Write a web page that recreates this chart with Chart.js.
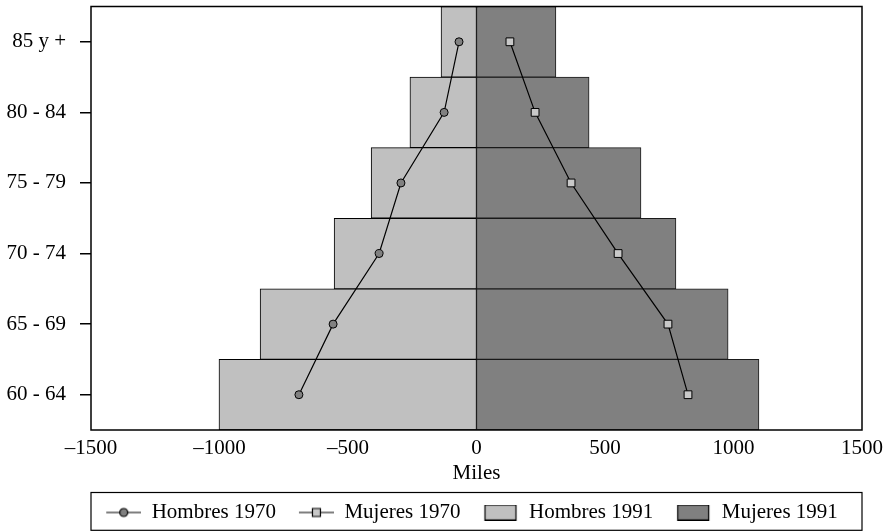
<!DOCTYPE html>
<html>
<head>
<meta charset="utf-8">
<script src="https://cdn.jsdelivr.net/npm/chart.js@4"></script>
<style>
  html, body { margin: 0; padding: 0; background: #fff; }
  #wrap { width: 891px; height: 531px; }
</style>
</head>
<body>
<div id="wrap"><canvas id="pyramid"></canvas></div>
<script>
// age groups, bottom to top
const grupos = ['60 - 64', '65 - 69', '70 - 74', '75 - 79', '80 - 84', '85 y +'];
// thousands of people (men negative)
const hombres1970 = [-691, -558, -379, -294, -126, -68];
const mujeres1970 = [823, 745, 551, 368, 228, 130];
const hombres1991 = [-1002, -842, -554, -410, -259, -138];
const mujeres1991 = [1099, 979, 776, 640, 438, 309];
const xTicks = [-1500, -1000, -500, 0, 500, 1000, 1500];

const fuente = "'Liberation Serif', 'DejaVu Serif', serif";

// little canvases used as legend symbols (blank on the left gives the item spacing)
function icono(tipo, relleno) {
    const c = document.createElement('canvas');
    c.width = 50;
    c.height = 16;
    const g = c.getContext('2d');
    g.strokeStyle = '#000';
    g.lineWidth = 1.2;
    if (tipo === 'caja') {
        g.fillStyle = relleno;
        g.fillRect(16.5, 0.5, 31, 15);
        g.strokeRect(16.5, 0.5, 31, 15);
    } else {
        g.beginPath();
        g.moveTo(15, 8);
        g.lineTo(50, 8);
        g.stroke();
        g.fillStyle = relleno;
        g.beginPath();
        if (tipo === 'circulo') {
            g.arc(32.5, 8, 4, 0, Math.PI * 2);
        } else {
            g.rect(28.5, 4, 8, 8);
        }
        g.fill();
        g.stroke();
    }
    return c;
}
const iconos = [
    icono('circulo', '#808080'),
    icono('cuadro', '#c8c8c8'),
    icono('caja', '#c0c0c0'),
    icono('caja', '#808080')
];

// box around the plot and around the legend
const marcos = {
    id: 'marcos',
    afterLayout(chart) {
        const lg = chart.legend;
        chart.$legendTop = lg.top;
        lg.left -= 12;
        lg.right -= 12;
        lg.top += 2;
        lg.bottom += 2;
    },
    afterDatasetsDraw(chart) {
        const a = chart.chartArea;
        const ctx = chart.ctx;
        ctx.save();
        ctx.strokeStyle = '#000';
        ctx.lineWidth = 1.5;
        ctx.strokeRect(a.left, a.top, a.right - a.left, a.bottom - a.top);
        ctx.restore();
    },
    afterDraw(chart) {
        const a = chart.chartArea;
        const top = chart.$legendTop;
        const ctx = chart.ctx;
        ctx.save();
        ctx.strokeStyle = '#000';
        ctx.lineWidth = 1.2;
        ctx.strokeRect(a.left, top + 0.5, a.right - a.left, chart.height - top - 1.2);
        ctx.restore();
    }
};

const ctx = document.getElementById('pyramid').getContext('2d');
const chart = new Chart(ctx, {
    type: 'bar',
    data: {
        labels: grupos,
        datasets: [{
            type: 'line',
            label: 'Hombres 1970',
            data: hombres1970,
            indexAxis: 'y',
            borderColor: '#000',
            borderWidth: 1.2,
            pointStyle: 'circle',
            pointRadius: 4,
            pointBackgroundColor: '#808080',
            pointBorderColor: '#000',
            pointBorderWidth: 1,
            fill: false,
            order: 0
        }, {
            type: 'line',
            label: 'Mujeres 1970',
            data: mujeres1970,
            indexAxis: 'y',
            borderColor: '#000',
            borderWidth: 1.2,
            pointStyle: 'rect',
            pointRadius: 5.5,
            pointBackgroundColor: '#c8c8c8',
            pointBorderColor: '#000',
            pointBorderWidth: 1,
            fill: false,
            order: 1
        }, {
            label: 'Hombres 1991',
            data: hombres1991,
            backgroundColor: '#c0c0c0',
            borderColor: '#000',
            borderWidth: 1,
            borderSkipped: false,
            grouped: false,
            barPercentage: 1,
            categoryPercentage: 1,
            order: 2
        }, {
            label: 'Mujeres 1991',
            data: mujeres1991,
            backgroundColor: '#808080',
            borderColor: '#1a1a1a',
            borderWidth: 1,
            borderSkipped: false,
            grouped: false,
            barPercentage: 1,
            categoryPercentage: 1,
            order: 3
        }]
    },
    options: {
        indexAxis: 'y',
        responsive: true,
        maintainAspectRatio: false,
        animation: false,
        layout: {
            padding: { top: 6, right: 29, left: 0, bottom: 0 }
        },
        plugins: {
            tooltip: { enabled: false },
            legend: {
                position: 'bottom',
                fullSize: false,
                labels: {
                    usePointStyle: true,
                    pointStyleWidth: 50,
                    boxHeight: 16,
                    padding: 8,
                    color: '#000',
                    font: { family: fuente, size: 21 },
                    generateLabels: (c) => c.data.datasets.map((ds, i) => ({
                        text: ds.label,
                        pointStyle: iconos[i],
                        datasetIndex: i,
                        hidden: false,
                        lineWidth: 0,
                        strokeStyle: 'rgba(0,0,0,0)',
                        fillStyle: 'rgba(0,0,0,0)',
                        fontColor: '#000'
                    }))
                }
            }
        },
        scales: {
            x: {
                min: -1500,
                max: 1500,
                afterBuildTicks: (s) => { s.ticks = xTicks.map(v => ({ value: v })); },
                afterFit: (s) => { s.height = 62; s.paddingTop = 0; s.paddingBottom = 0; },
                grid: { display: false, drawTicks: false, tickLength: 0 },
                border: { display: false },
                ticks: {
                    color: '#000',
                    padding: 6,
                    maxRotation: 0,
                    font: { family: fuente, size: 21 },
                    callback: (v) => v < 0 ? '\u2013' + Math.abs(v) : String(v)
                },
                title: {
                    display: true,
                    text: 'Miles',
                    color: '#000',
                    padding: { top: 0, bottom: 6 },
                    font: { family: fuente, size: 21 }
                }
            },
            y: {
                reverse: true,
                afterFit: (s) => { s.width = 91; s.paddingTop = 0; s.paddingBottom = 0; },
                grid: {
                    display: true,
                    drawOnChartArea: false,
                    drawTicks: true,
                    tickLength: 11,
                    offset: false,
                    color: '#000',
                    lineWidth: 1.5
                },
                border: { display: false },
                ticks: {
                    color: '#000',
                    padding: 14,
                    font: { family: fuente, size: 21 }
                }
            }
        }
    },
    plugins: [marcos]
});
</script>
</body>
</html>
